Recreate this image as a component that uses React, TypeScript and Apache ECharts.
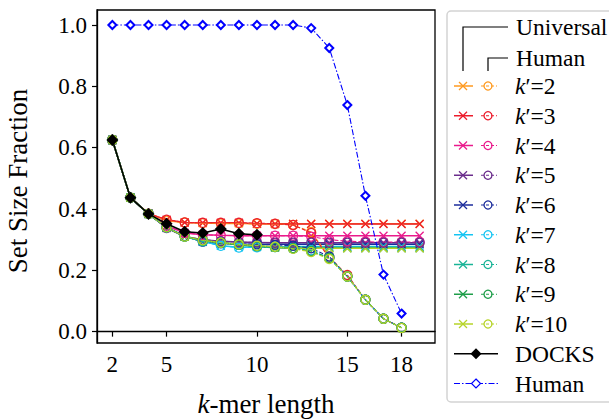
import React, { useEffect, useRef } from 'react';
import * as echarts from 'echarts';

const K_UNIVERSAL = [2, 3, 4, 5, 6, 7, 8, 9, 10, 11, 12, 13, 14, 15, 16, 17, 18, 19];
const K_HUMAN = [2, 3, 4, 5, 6, 7, 8, 9, 10, 11, 12, 13, 14, 15, 16, 17, 18, 19];
const K_DOCKS = [2, 3, 4, 5, 6, 7, 8, 9, 10];
const K_HUMAN_SET = [2, 3, 4, 5, 6, 7, 8, 9, 10, 11, 12, 13, 14, 15, 16, 17, 18];

const KPRIME_LABELS = ['2', '3', '4', '5', '6', '7', '8', '9', '10'];
const KPRIME_COLORS = ['#ff9a1f', '#ec1c2c', '#ea1a8c', '#6b2d8c', '#1c2c9c', '#14c4f2', '#1ab497', '#1f9e4a', '#b6d428'];

const UNIVERSAL_2 = [0.625, 0.437, 0.385, 0.362, 0.356, 0.354, 0.353, 0.353, 0.352, 0.352, 0.352, 0.352, 0.352, 0.352, 0.352, 0.352, 0.352, 0.352];
const UNIVERSAL_3 = [0.625, 0.437, 0.385, 0.365, 0.356, 0.355, 0.355, 0.355, 0.352, 0.351, 0.351, 0.351, 0.351, 0.351, 0.351, 0.351, 0.351, 0.351];
const UNIVERSAL_4 = [0.625, 0.437, 0.384, 0.345, 0.322, 0.316, 0.314, 0.313, 0.313, 0.313, 0.313, 0.313, 0.313, 0.313, 0.313, 0.313, 0.313, 0.313];
const UNIVERSAL_5 = [0.625, 0.437, 0.384, 0.338, 0.31, 0.3, 0.295, 0.292, 0.291, 0.29, 0.29, 0.29, 0.29, 0.29, 0.29, 0.29, 0.29, 0.29];
const UNIVERSAL_6 = [0.625, 0.437, 0.384, 0.34, 0.312, 0.293, 0.288, 0.286, 0.285, 0.285, 0.285, 0.285, 0.285, 0.285, 0.285, 0.285, 0.285, 0.285];
const UNIVERSAL_7 = [0.625, 0.437, 0.384, 0.34, 0.31, 0.295, 0.28, 0.275, 0.276, 0.277, 0.278, 0.278, 0.278, 0.278, 0.278, 0.278, 0.278, 0.278];
const UNIVERSAL_8 = [0.625, 0.437, 0.384, 0.34, 0.31, 0.295, 0.29, 0.285, 0.28, 0.276, 0.275, 0.275, 0.275, 0.275, 0.275, 0.275, 0.275, 0.275];
const UNIVERSAL_9 = [0.625, 0.437, 0.384, 0.34, 0.31, 0.298, 0.29, 0.283, 0.278, 0.274, 0.272, 0.272, 0.272, 0.272, 0.272, 0.272, 0.272, 0.272];
const UNIVERSAL_10 = [0.625, 0.437, 0.384, 0.34, 0.31, 0.298, 0.29, 0.285, 0.28, 0.276, 0.273, 0.272, 0.272, 0.272, 0.272, 0.272, 0.272, 0.272];

const HUMAN_2 = [0.625, 0.437, 0.385, 0.362, 0.356, 0.354, 0.353, 0.353, 0.352, 0.351, 0.348, 0.325, 0.245, 0.182, 0.104, 0.042, 0.013, null];
const HUMAN_3 = [0.625, 0.437, 0.385, 0.365, 0.356, 0.355, 0.355, 0.355, 0.354, 0.352, 0.348, 0.322, 0.24, 0.185, 0.104, 0.042, 0.013, null];
const HUMAN_4 = [0.625, 0.437, 0.384, 0.345, 0.322, 0.316, 0.314, 0.313, 0.313, 0.313, 0.313, 0.31, 0.3, 0.295, 0.293, 0.292, 0.292, 0.292];
const HUMAN_5 = [0.625, 0.437, 0.384, 0.338, 0.31, 0.3, 0.295, 0.292, 0.291, 0.29, 0.29, 0.29, 0.29, 0.29, 0.29, 0.29, 0.29, 0.29];
const HUMAN_6 = [0.625, 0.437, 0.384, 0.34, 0.312, 0.293, 0.288, 0.286, 0.285, 0.283, 0.28, 0.272, 0.245, 0.18, 0.104, 0.042, 0.013, null];
const HUMAN_7 = [0.625, 0.437, 0.384, 0.34, 0.31, 0.295, 0.28, 0.274, 0.275, 0.277, 0.272, 0.265, 0.24, 0.18, 0.104, 0.042, 0.013, null];
const HUMAN_8 = [0.625, 0.437, 0.384, 0.34, 0.31, 0.295, 0.29, 0.285, 0.28, 0.276, 0.272, 0.264, 0.24, 0.18, 0.104, 0.042, 0.013, null];
const HUMAN_9 = [0.625, 0.437, 0.384, 0.34, 0.31, 0.298, 0.29, 0.283, 0.278, 0.276, 0.272, 0.262, 0.24, 0.18, 0.104, 0.042, 0.013, null];
const HUMAN_10 = [0.625, 0.437, 0.384, 0.34, 0.31, 0.298, 0.29, 0.285, 0.28, 0.277, 0.27, 0.26, 0.237, 0.18, 0.104, 0.042, 0.012, null];

const DOCKS = [0.625, 0.437, 0.384, 0.352, 0.326, 0.322, 0.335, 0.319, 0.316];
const HUMAN_SET = [1.0, 1.0, 1.0, 1.0, 1.0, 1.0, 1.0, 1.0, 1.0, 1.0, 1.0, 0.99, 0.925, 0.739, 0.443, 0.186, 0.059];

const X_TICKS = [2, 5, 10, 15, 18];
const Y_TICKS = [0, 0.2, 0.4, 0.6, 0.8, 1.0];

const UNIVERSAL = [UNIVERSAL_2, UNIVERSAL_3, UNIVERSAL_4, UNIVERSAL_5, UNIVERSAL_6, UNIVERSAL_7, UNIVERSAL_8, UNIVERSAL_9, UNIVERSAL_10];
const HUMAN = [HUMAN_2, HUMAN_3, HUMAN_4, HUMAN_5, HUMAN_6, HUMAN_7, HUMAN_8, HUMAN_9, HUMAN_10];

const FONT = "'Liberation Serif', 'DejaVu Serif', serif";
const FS = 23.5;
const FS_TICK = 23;
const FS_TITLE = 27;
const CROSS = 'path://M0,0L10,10M0,10L10,0';

function pairs(xs: number[], ys: (number | null)[]) {
  return xs.map((x, i) => [x, ys[i] === undefined ? null : ys[i]]);
}

function txt(extra: any, size: number = FS) {
  return { fontFamily: FONT, fontSize: size, fill: '#000', ...extra };
}

export default function App() {
  const ref = useRef<HTMLDivElement>(null);
  useEffect(() => {
    if (!ref.current) return;
    const chart = echarts.init(ref.current, null, { renderer: 'svg' });
    const series: any[] = [];
    UNIVERSAL.forEach((vals, i) => {
      const c = KPRIME_COLORS[i];
      series.push({
        type: 'line', name: 'U' + KPRIME_LABELS[i], data: pairs(K_UNIVERSAL, vals),
        symbol: CROSS, symbolSize: 8, showAllSymbol: true,
        lineStyle: { color: c, width: 1.5 },
        itemStyle: { color: c, borderColor: c, borderWidth: 1.3 },
        z: 2,
      });
    });
    HUMAN.forEach((vals, i) => {
      const c = KPRIME_COLORS[i];
      series.push({
        type: 'line', name: 'H' + KPRIME_LABELS[i], data: pairs(K_HUMAN, vals),
        symbol: 'circle', symbolSize: 9, showAllSymbol: true,
        lineStyle: { color: c, width: 1.1, type: [4, 2] },
        itemStyle: { color: 'none', borderColor: c, borderWidth: 1.3 },
        z: 3,
      });
    });
    series.push({
      type: 'line', name: 'DOCKS', data: pairs(K_DOCKS, DOCKS),
      symbol: 'diamond', symbolSize: 12, showAllSymbol: true,
      lineStyle: { color: '#000', width: 1.5 },
      itemStyle: { color: '#000' }, z: 4,
    });
    series.push({
      type: 'line', name: 'Human', data: pairs(K_HUMAN_SET, HUMAN_SET),
      symbol: 'emptyDiamond', symbolSize: 8, showAllSymbol: true,
      lineStyle: { color: '#0000ff', width: 1.1, type: [6, 2, 1.5, 2] },
      itemStyle: { color: '#0000ff', borderColor: '#0000ff', borderWidth: 1.2 }, z: 5,
    });

    const legend: any[] = [];
    legend.push({ type: 'rect', shape: { x: 447, y: 11, width: 200, height: 391, r: 4 }, style: { fill: '#fff', stroke: '#d3d3d3', lineWidth: 1.5 }, z: 10 });
    legend.push({ type: 'polyline', shape: { points: [[463, 71], [463, 27], [508, 27]] }, style: { stroke: '#000', lineWidth: 1.2, fill: null }, z: 11 });
    legend.push({ type: 'polyline', shape: { points: [[488, 71], [488, 58], [508, 58]] }, style: { stroke: '#000', lineWidth: 1.2, fill: null }, z: 11 });
    legend.push({ type: 'text', x: 516, y: 27, style: txt({ text: 'Universal', verticalAlign: 'middle' }), z: 11 });
    legend.push({ type: 'text', x: 516, y: 58, style: txt({ text: 'Human', verticalAlign: 'middle' }), z: 11 });
    KPRIME_LABELS.forEach((lab, i) => {
      const y = 86 + i * 29.75;
      const c = KPRIME_COLORS[i];
      legend.push({ type: 'line', shape: { x1: 454, y1: y, x2: 473, y2: y }, style: { stroke: c, lineWidth: 1.5 }, z: 11 });
      legend.push({ type: 'line', shape: { x1: 459, y1: y - 4, x2: 467, y2: y + 4 }, style: { stroke: c, lineWidth: 1.3 }, z: 11 });
      legend.push({ type: 'line', shape: { x1: 459, y1: y + 4, x2: 467, y2: y - 4 }, style: { stroke: c, lineWidth: 1.3 }, z: 11 });
      legend.push({ type: 'line', shape: { x1: 481, y1: y, x2: 497, y2: y }, style: { stroke: c, lineWidth: 1.1, lineDash: [3, 2] }, z: 11 });
      legend.push({ type: 'circle', shape: { cx: 488, cy: y, r: 4 }, style: { stroke: c, lineWidth: 1.3, fill: null }, z: 12 });
      legend.push({
        type: 'text', x: 515, y: y,
        style: txt({
          text: '{i|k}′=' + lab,
          rich: { i: { fontStyle: 'italic', fontFamily: FONT, fontSize: FS, fill: '#000' } },
          verticalAlign: 'middle',
        }), z: 11,
      });
    });
    const yD = 86 + 9 * 29.75;
    legend.push({ type: 'line', shape: { x1: 454, y1: yD, x2: 498, y2: yD }, style: { stroke: '#000', lineWidth: 1.5 }, z: 11 });
    legend.push({ type: 'polygon', shape: { points: [[476, yD - 5.5], [481.5, yD], [476, yD + 5.5], [470.5, yD]] }, style: { fill: '#000' }, z: 12 });
    legend.push({ type: 'text', x: 515, y: yD, style: txt({ text: 'DOCKS', verticalAlign: 'middle' }), z: 11 });
    const yH = 86 + 10 * 29.75;
    legend.push({ type: 'line', shape: { x1: 454, y1: yH, x2: 498, y2: yH }, style: { stroke: '#0000ff', lineWidth: 1.1, lineDash: [6, 2, 1.5, 2] }, z: 11 });
    legend.push({ type: 'polygon', shape: { points: [[476, yH - 4.5], [480.5, yH], [476, yH + 4.5], [471.5, yH]] }, style: { fill: '#fff', stroke: '#0000ff', lineWidth: 1.2 }, z: 12 });
    legend.push({ type: 'text', x: 515, y: yH, style: txt({ text: 'Human', verticalAlign: 'middle' }), z: 11 });

    legend.push({
      type: 'text', x: 266, y: 404,
      style: txt({
        text: '{i|k}-mer length',
        rich: { i: { fontStyle: 'italic', fontFamily: FONT, fontSize: FS_TITLE, fill: '#000' } },
        align: 'center', verticalAlign: 'middle',
      }, FS_TITLE), z: 11,
    });
    legend.push({
      type: 'text', x: 18, y: 181, rotation: Math.PI / 2,
      style: txt({ text: 'Set Size Fraction', align: 'center', verticalAlign: 'middle' }, FS_TITLE), z: 11,
    });

    chart.setOption({
      animation: false,
      backgroundColor: '#fff',
      grid: { left: 97, right: 174, top: 10, bottom: 76, show: true, borderColor: '#000', borderWidth: 1.3, backgroundColor: 'transparent' },
      xAxis: {
        type: 'value', min: 1.15, max: 19.85,
        axisLine: { show: true, lineStyle: { color: '#000', width: 1.3 } },
        axisTick: { show: true, length: 5, inside: false, customValues: X_TICKS, lineStyle: { color: '#000', width: 1.2 } },
        axisLabel: { customValues: X_TICKS, margin: 10, fontFamily: FONT, fontSize: FS_TICK, color: '#000' },
        splitLine: { show: false },
      },
      yAxis: {
        type: 'value', min: -0.037, max: 1.049,
        axisLine: { show: true, lineStyle: { color: '#000', width: 1.3 } },
        axisTick: { show: true, length: 5, inside: false, customValues: Y_TICKS, lineStyle: { color: '#000', width: 1.2 } },
        axisLabel: { customValues: Y_TICKS, margin: 10, fontFamily: FONT, fontSize: FS_TICK, color: '#000', formatter: (v: number) => v.toFixed(1) },
        splitLine: { show: false },
      },
      series,
      graphic: legend,
    });
    return () => chart.dispose();
  }, []);
  return <div ref={ref} style={{ width: 609, height: 419, position: 'absolute', left: 0, top: 0 }} />;
}
